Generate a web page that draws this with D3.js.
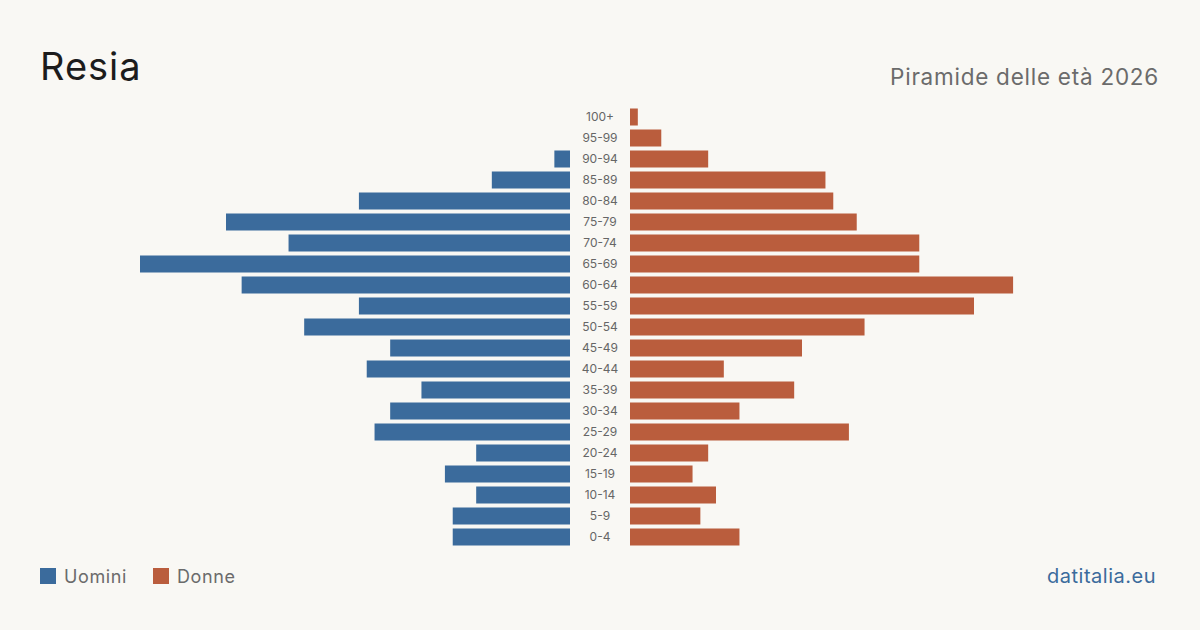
<!DOCTYPE html>
<html><head><meta charset="utf-8">
<script src="https://cdn.jsdelivr.net/npm/d3@7"></script>
<style>
html,body{margin:0;padding:0;background:#f9f8f4;}
svg{display:block;font-family:Inter,"Noto Sans",sans-serif;}
</style></head>
<body>
<svg id="c" width="1200" height="630"></svg>
<script>
const ageGroups = ["100+","95-99","90-94","85-89","80-84","75-79","70-74","65-69","60-64","55-59","50-54","45-49","40-44","35-39","30-34","25-29","20-24","15-19","10-14","5-9","0-4"];
const uomini = [0,0,2,10,27,44,36,55,42,27,34,23,26,19,23,25,12,16,12,15,15];
const donne  = [1,4,10,25,26,29,37,37,49,44,30,22,12,21,14,28,10,8,11,9,14];
const legendLabels = ["Uomini","Donne"];
const colors = {uomini:"#3b6b9c", donne:"#ba5d3d"};

const svg = d3.select("#c");
svg.append("rect").attr("width",1200).attr("height",630).attr("fill","#f9f8f4");

const leftEnd = 570, rightStart = 630, maxLen = 430;
const maxVal = 55;
const xL = d3.scaleLinear().domain([0,maxVal]).range([leftEnd, leftEnd-maxLen]);
const xR = d3.scaleLinear().domain([0,maxVal]).range([rightStart, rightStart+maxLen]);
const y = d3.scaleBand().domain(ageGroups).range([106.5, 547.5]).paddingInner(4/21).paddingOuter(2/21);

svg.append("text").attr("x",40).attr("y",80).attr("font-size",38).attr("letter-spacing",1).attr("fill","#1c1c1c").text("Resia");
svg.append("text").attr("x",1159).attr("y",85).attr("text-anchor","end").attr("font-size",22.5).attr("letter-spacing",0.75).attr("fill","#6b6b6b").text("Piramide delle età 2026");

const g = svg.append("g");
g.selectAll("rect.u").data(ageGroups).join("rect").attr("class","u")
  .attr("x",(d,i)=>xL(uomini[i])).attr("y",d=>y(d))
  .attr("width",(d,i)=>leftEnd-xL(uomini[i])).attr("height",y.bandwidth())
  .attr("fill",colors.uomini);
g.selectAll("rect.d").data(ageGroups).join("rect").attr("class","d")
  .attr("x",rightStart).attr("y",d=>y(d))
  .attr("width",(d,i)=>xR(donne[i])-rightStart).attr("height",y.bandwidth())
  .attr("fill",colors.donne);
g.selectAll("text.a").data(ageGroups).join("text").attr("class","a")
  .attr("x",600).attr("y",d=>y(d)+y.bandwidth()/2).attr("dy","0.36em")
  .attr("text-anchor","middle").attr("font-size",12).attr("fill","#666").text(d=>d);

const leg = svg.append("g");
const lx = [40,153];
legendLabels.forEach((l,i)=>{
  leg.append("rect").attr("x",lx[i]).attr("y",568).attr("width",16).attr("height",16).attr("fill",i===0?colors.uomini:colors.donne);
  leg.append("text").attr("x",lx[i]+24).attr("y",583).attr("font-size",18).attr("letter-spacing",0.6).attr("fill","#6b6b6b").text(l);
});
svg.append("text").attr("x",1156).attr("y",583).attr("text-anchor","end").attr("font-size",20).attr("letter-spacing",0.5).attr("fill","#3b6b9c").text("datitalia.eu");
</script>
</body></html>
